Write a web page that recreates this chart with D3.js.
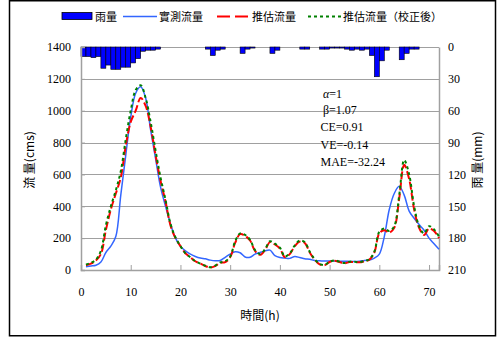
<!DOCTYPE html>
<html><head><meta charset="utf-8">
<script src="https://cdn.jsdelivr.net/npm/d3@7/dist/d3.min.js"></script>
<style>
body{margin:0;background:#fff;}
svg{display:block;font-family:"Liberation Serif","Noto Sans CJK TC",serif;}
</style></head><body>
<svg id="c" width="497" height="338"></svg>
<script>
const hours = d3.range(1, 73);
const rain = [9,9,10,9,20,17,21,21,19,19,15,11,4,3,3,2,0,0,0,0,0,0,0,0,0,2,8,3,2,0,0,0,6,2,1,0,0,0,6,3,0,0,0,0,2,2,0,0,2,2,1,1,1,2,3,2,3,2,8,28,13,3,0,0,12,6,2,2,0,0,0,0];
const observed = [20,25,30,50,110,150,210,470,720,960,1110,1150,1080,880,700,520,400,290,200,150,120,100,85,75,70,62,58,60,80,100,115,108,82,80,100,110,120,125,90,78,75,73,85,78,70,67,60,58,56,56,56,55,55,54,53,55,60,62,75,100,210,380,480,525,470,370,325,285,250,200,165,130];
const estimated = [30,40,60,100,250,380,480,580,780,930,1000,1080,1030,900,720,560,430,280,200,150,105,80,55,40,25,15,25,45,50,80,170,225,215,185,120,95,125,175,160,135,80,100,150,178,170,110,65,35,30,50,58,50,42,50,50,48,55,65,110,230,250,235,265,450,660,570,380,265,220,260,245,200];
const calibrated = [35,45,65,120,280,400,500,620,820,1000,1130,1160,1080,930,750,580,440,290,205,150,105,80,55,40,27,18,28,48,55,85,180,230,220,190,125,100,130,180,165,140,85,105,155,185,175,115,68,38,32,52,60,52,44,52,52,50,57,68,115,240,260,245,275,470,690,600,400,275,230,275,255,210];
const yTicks = [0,200,400,600,800,1000,1200,1400];
const yRightTicks = [0,30,60,90,120,150,180,210];
const xTicks = [0,10,20,30,40,50,60,70];
const legendLabels = ["雨量","實測流量","推估流量","推估流量（校正後）"];
const statLines = ["=1","β=1.07","CE=0.91","VE=-0.14","MAE=-32.24"];

const svg = d3.select("#c");
const x = d3.scaleLinear().domain([0,72]).range([81,439]);
const y = d3.scaleLinear().domain([0,1400]).range([270,47]);
const yR = d3.scaleLinear().domain([0,210]).range([47,270]);
const grid = "#a0a0a0";

// outer frame
svg.append("rect").attr("x",9.5).attr("y",0.75).attr("width",486).attr("height",335)
  .attr("fill","none").attr("stroke","#000").attr("stroke-width",1.5);

// gridlines
svg.append("g").selectAll("line").data(yTicks).join("line")
  .attr("x1",x(0)).attr("x2",x(72)).attr("y1",d=>Math.round(y(d))+0.5).attr("y2",d=>Math.round(y(d))+0.5)
  .attr("stroke",grid).attr("stroke-width",1);

// rain bars
svg.append("g").selectAll("rect").data(hours.filter((h,i)=>rain[i]>0)).join("rect")
  .attr("x",h=>x(h-1)).attr("width",h=>x(h)-x(h-1))
  .attr("y",yR(0)).attr("height",h=>yR(rain[h-1])-yR(0))
  .attr("fill","#0000ff").attr("stroke","#000").attr("stroke-width",0.6);

// axes
const ax = svg.append("g").attr("transform","translate(81,0)")
  .call(d3.axisLeft(y).tickValues(yTicks).tickSize(-4).tickPadding(10).tickFormat(d3.format("d")));
const axR = svg.append("g").attr("transform","translate(439,0)")
  .call(d3.axisRight(yR).tickValues(yRightTicks).tickSize(0).tickPadding(9));
const axB = svg.append("g").attr("transform","translate(0,270)")
  .call(d3.axisBottom(x).tickValues(xTicks).tickSize(-5).tickPadding(17));
[ax,axR,axB].forEach(g=>{
  g.select(".domain").attr("stroke",grid).attr("stroke-width",1.5);
  g.selectAll(".tick line").attr("stroke",grid);
  g.selectAll("text").attr("font-size",12).attr("fill","#000").attr("font-family","Liberation Serif");
});

// lines
const line = arr => d3.line().x((d,i)=>x(hours[i])).y(d=>y(d)).curve(d3.curveCatmullRom.alpha(0.5))(arr);
svg.append("path").attr("d",line(observed)).attr("fill","none").attr("stroke","#3366ff").attr("stroke-width",1.5);
svg.append("path").attr("d",line(estimated)).attr("fill","none").attr("stroke","#ff0000").attr("stroke-width",2).attr("stroke-dasharray","8,3");
svg.append("path").attr("d",line(calibrated)).attr("fill","none").attr("stroke","#008000").attr("stroke-width",2).attr("stroke-dasharray","3,3");

// axis titles
svg.append("text").attr("transform","translate(34,160) rotate(-90)").attr("text-anchor","middle")
  .attr("font-size",12).attr("font-family","Noto Sans CJK TC").text("流 量(cms)");
svg.append("text").attr("transform","translate(482,160) rotate(-90)").attr("text-anchor","middle")
  .attr("font-size",12).attr("font-family","Noto Sans CJK TC").text("雨 量(mm)");
svg.append("text").attr("x",260).attr("y",320).attr("text-anchor","middle")
  .attr("font-size",12).attr("font-family","Noto Sans CJK TC").text("時間(h)");

// stats
const sb = [97.5,114,131,149,166];
const sx = [323,323,320.5,320.5,320.5];
statLines.forEach((t,i)=>{
  const te = svg.append("text").attr("x",sx[i]).attr("y",sb[i]).attr("font-size",12).attr("font-family","Liberation Serif");
  if(i===0){ te.append("tspan").attr("font-style","italic").text("α"); }
  te.append("tspan").text(t);
});

// legend
const lg = svg.append("g").attr("font-size",11).attr("font-family","Noto Sans CJK TC");
lg.append("rect").attr("x",62).attr("y",12.5).attr("width",30).attr("height",7).attr("fill","#0000ff").attr("stroke","#000").attr("stroke-width",0.8);
lg.append("line").attr("x1",123).attr("x2",157).attr("y1",16.5).attr("y2",16.5).attr("stroke","#3366ff").attr("stroke-width",1.5);
lg.append("line").attr("x1",217).attr("x2",248).attr("y1",16.5).attr("y2",16.5).attr("stroke","#ff0000").attr("stroke-width",2).attr("stroke-dasharray","13,5");
lg.append("line").attr("x1",308).attr("x2",341).attr("y1",16.5).attr("y2",16.5).attr("stroke","#008000").attr("stroke-width",2).attr("stroke-dasharray","3,3");
const lx = [95,159,252,343];
legendLabels.forEach((t,i)=>{
  lg.append("text").attr("x",lx[i]).attr("y",20.5).text(t);
});
</script>
</body></html>
